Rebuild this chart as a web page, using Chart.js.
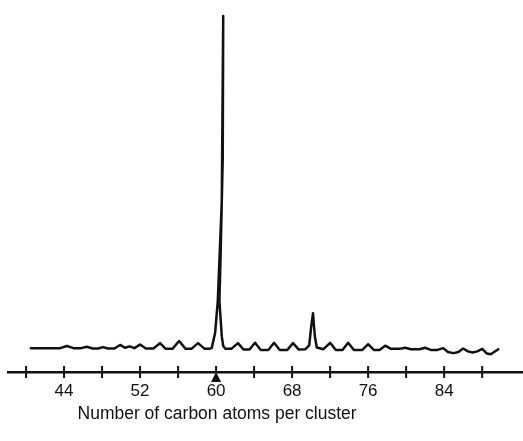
<!DOCTYPE html>
<html>
<head>
<meta charset="utf-8">
<script src="https://cdn.jsdelivr.net/npm/chart.js@4/dist/chart.umd.min.js"></script>
<style>
  html, body { margin: 0; padding: 0; background: #fff; }
  #wrap { width: 523px; height: 441px; }
</style>
</head>
<body>
<div id="wrap"><canvas id="myChart" width="523" height="441"></canvas></div>
<script>
// cluster size (carbon atoms)
var atoms = [40.5, 43.6, 44.3, 45.0, 45.8, 46.4, 47.0, 47.6, 48.1, 48.6,
  49.3, 49.9, 50.4, 50.9, 51.4, 52.0, 52.6, 53.4, 54.1, 54.7,
  55.4, 56.1, 56.8, 57.4, 58.1, 58.8, 59.3, 59.55, 59.9, 60.18,
  60.6, 60.75, 60.7, 60.45, 60.35, 60.6, 60.75, 61.0, 61.6, 62.3,
  62.9, 63.5, 64.1, 64.7, 65.5, 66.1, 66.7, 67.5, 68.1, 68.7,
  69.4, 69.8, 70.0, 70.2, 70.4, 70.6, 71.3, 72.0, 72.6, 73.3,
  73.9, 74.5, 75.4, 76.0, 76.6, 77.2, 77.8, 78.4, 79.3, 79.9,
  80.5, 81.4, 82.0, 82.6, 83.3, 83.9, 84.4, 85.0, 85.5, 86.0,
  86.5, 87.0, 87.5, 88.0, 88.5, 88.9, 89.7];
// relative signal (tallest peak = 100)
var signal = [6.7, 6.7, 7.3, 6.7, 6.7, 7.1, 6.6, 6.6, 7.0, 6.6,
  6.6, 7.6, 6.8, 7.2, 6.7, 7.7, 6.6, 6.6, 8.1, 6.5,
  6.5, 8.7, 6.5, 6.5, 8.1, 6.5, 6.5, 6.8, 11.0, 20.0,
  48.0, 100, 60.0, 30.0, 20.0, 10.0, 7.3, 6.5, 6.5, 8.1,
  6.3, 6.3, 8.2, 6.2, 6.2, 8.2, 6.2, 6.2, 8.1, 6.3,
  6.4, 7.5, 12.5, 16.5, 9.9, 6.9, 6.4, 8.2, 6.2, 6.2,
  8.2, 6.2, 6.2, 7.8, 6.2, 6.2, 7.4, 6.5, 6.5, 6.8,
  6.4, 6.4, 6.8, 6.2, 6.2, 6.7, 5.6, 5.3, 5.6, 6.6,
  5.8, 5.5, 5.8, 6.5, 5.2, 5.0, 6.4];
var tickValues = [40, 44, 48, 52, 56, 60, 64, 68, 72, 76, 80, 84, 88];
var labelValues = [44, 52, 60, 68, 76, 84];
var markerAt = 60;
var axisTitle = 'Number of carbon atoms per cluster';

var points = [];
for (let i = 0; i < atoms.length; i++) {
  points.push({x: atoms[i], y: signal[i]});
}

// ticks that cross the axis line, the little triangle under 60, and the title
var axisMarks = {
  id: 'axisMarks',
  afterDraw: function(chart) {
    var ctx = chart.ctx;
    var xs = chart.scales.x;
    var y0 = chart.chartArea.bottom;
    ctx.save();
    ctx.strokeStyle = '#111';
    ctx.lineWidth = 2;
    for (let i = 0; i < tickValues.length; i++) {
      var px = xs.getPixelForValue(tickValues[i]);
      ctx.beginPath();
      ctx.moveTo(px, y0 - 6);
      ctx.lineTo(px, y0 + (tickValues[i] === markerAt ? 0 : 6));
      ctx.stroke();
    }
    var mx = xs.getPixelForValue(markerAt);
    ctx.fillStyle = '#111';
    ctx.beginPath();
    ctx.moveTo(mx, y0);
    ctx.lineTo(mx - 5, y0 + 10);
    ctx.lineTo(mx + 5, y0 + 10);
    ctx.closePath();
    ctx.fill();
    // title sits under the 60 mark in the original, not centred on the axis
    ctx.font = '17.5px "Liberation Sans", Arial, sans-serif';
    ctx.textAlign = 'center';
    ctx.textBaseline = 'middle';
    ctx.fillText(axisTitle, mx + 1, 414);
    ctx.restore();
  }
};

var ctx = document.getElementById('myChart').getContext('2d');
var chart = new Chart(ctx, {
  type: 'line',
  data: {
    datasets: [{
      data: points,
      borderColor: '#111',
      borderWidth: 2.5,
      borderJoinStyle: 'round',
      borderCapStyle: 'round',
      pointRadius: 0,
      tension: 0,
      fill: false,
      clip: false
    }]
  },
  options: {
    responsive: false,
    animation: false,
    events: [],
    layout: { padding: { left: 8, right: 0, top: 16, bottom: 0 } },
    plugins: { legend: { display: false }, tooltip: { enabled: false } },
    scales: {
      x: {
        type: 'linear',
        min: 38.1,
        max: 92.3,
        afterBuildTicks: function(scale) {
          scale.ticks = tickValues.map(function(v) { return {value: v}; });
        },
        afterFit: function(scale) { scale.height = 69; },
        grid: { display: false, drawTicks: false },
        border: { display: true, color: '#111', width: 2.5 },
        ticks: {
          autoSkip: false,
          maxRotation: 0,
          padding: 9,
          color: '#111',
          font: { family: 'Liberation Sans', size: 17 },
          callback: function(v) { return labelValues.includes(v) ? String(v) : ''; }
        }
      },
      y: {
        display: false,
        min: 0,
        max: 100
      }
    }
  },
  plugins: [axisMarks]
});
</script>
</body>
</html>
